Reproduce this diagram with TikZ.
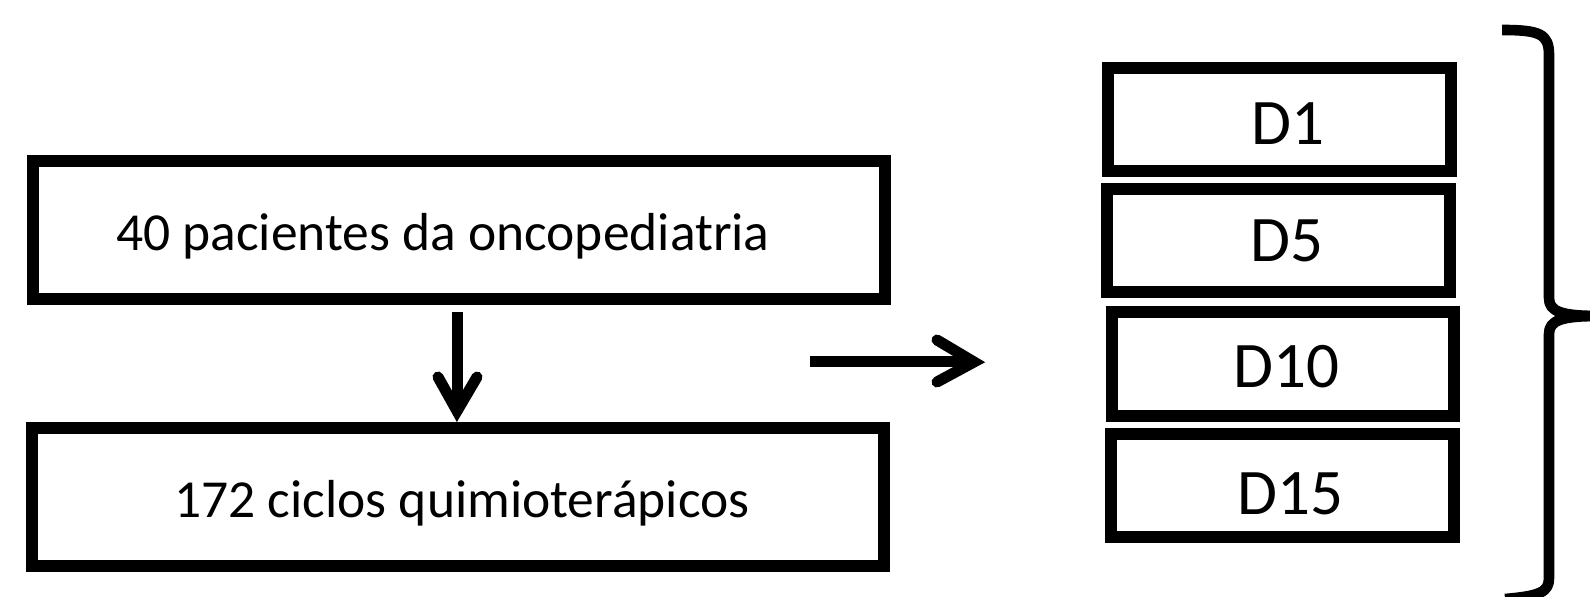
\documentclass[tikz,border=0pt]{standalone}
\usepackage{fontspec}
\setmainfont{Carlito}
\usetikzlibrary{calc}
\begin{document}
\begin{tikzpicture}[x=0.5pt,y=-0.5pt,
  box/.style={draw, line width=6pt, inner sep=0pt, rectangle},
  lbl/.style={anchor=base, inner sep=0pt, font=\fontsize{26.75}{30}\selectfont},
  dlbl/.style={anchor=base, inner sep=0pt, font=\fontsize{32.5}{36}\selectfont},
  shaft/.style={line width=5.5pt, line cap=butt},
  head/.style={line width=5.5pt, line cap=round, line join=miter},
  bracestroke/.style={line width=5.3pt, line cap=butt, line join=round}]
\useasboundingbox (0,0) rectangle (1590,597);
\clip (0,0) rectangle (1590,597);
% left boxes
\node[box, minimum width=426pt, minimum height=69pt] (b1) at (459,230) {};
\node[box, minimum width=426pt, minimum height=69pt] (b2) at (458,497) {};
\node[lbl] (t1) at (443,251) {40 pacientes da oncopediatria};
\node[lbl] (t2) at (462,518) {172 ciclos quimioterápicos};
% D boxes
\node[box, minimum width=171.5pt, minimum height=51.5pt] (d1) at (1279.5,119.5) {};
\node[box, minimum width=171.5pt, minimum height=51.5pt] (d5) at (1278.5,240.5) {};
\node[box, minimum width=171pt, minimum height=52pt] (d10) at (1283,364) {};
\node[box, minimum width=171.5pt, minimum height=51.5pt] (d15) at (1282.5,485.5) {};
\node[dlbl] (l1) at (1288,145) {D1};
\node[dlbl] (l5) at (1287,262) {D5};
\node[dlbl] (l10) at (1286,388) {D10};
\node[dlbl] (l15) at (1290,515) {D15};
% down arrow
\coordinate (a1s) at (457,312);
\coordinate (a1e) at (457,411);
\draw[shaft] (a1s) -- (a1e);
\draw[head] ($(a1e)+(-19,-34)$) -- (a1e) -- ($(a1e)+(20,-34)$);
% right arrow
\coordinate (a2s) at (810,362);
\coordinate (a2e) at (974,362);
\draw[shaft] (a2s) -- (a2e);
\draw[head] ($(a2e)+(-37,-22)$) -- (a2e) -- ($(a2e)+(-37,20)$);
% brace
\draw[bracestroke] (1502,30) .. controls (1540,30) and (1549,34) .. (1549,55)
  -- (1549,298) .. controls (1549,312) and (1562,316) .. (1600,316);
\draw[bracestroke] (1600,316) .. controls (1562,316) and (1549,320) .. (1549,334)
  -- (1549,578) .. controls (1549,592) and (1540,596) .. (1505,599);
\end{tikzpicture}
\end{document}
